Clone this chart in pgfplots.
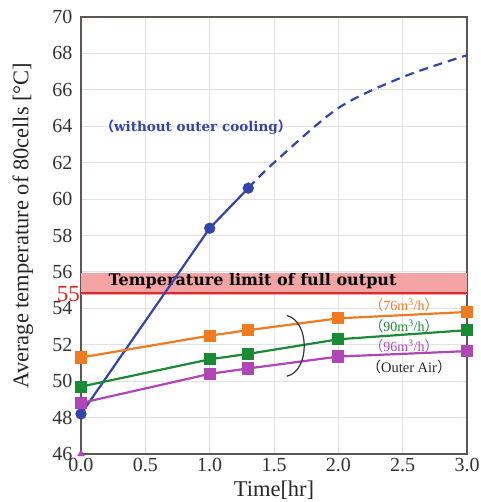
\documentclass[border=0pt]{standalone}
\usepackage{pgfplots}
\pgfplotsset{compat=1.18}
\usepackage{fontspec}
\setmainfont{Liberation Serif}
\newfontfamily\wide{DejaVu Serif}
\newfontfamily\cjk{Noto Sans CJK SC}
\definecolor{cblue}{HTML}{3344AA}
\definecolor{corange}{HTML}{F07A22}
\definecolor{cgreen}{HTML}{1B8A35}
\definecolor{cpurple}{HTML}{B045B5}
\definecolor{caxis}{HTML}{5E5652}
\definecolor{cband}{HTML}{F4A4A4}
\definecolor{cred}{HTML}{E02828}
\begin{document}
\begin{tikzpicture}
\begin{axis}[
  scale only axis,
  width=386bp, height=437bp,
  xmin=0, xmax=3, ymin=46, ymax=70,
  xtick={0,0.5,...,3}, ytick={46,48,...,70},
  /pgf/number format/assume math mode=true,
  xticklabel style={/pgf/number format/fixed,/pgf/number format/fixed zerofill,/pgf/number format/precision=1, yshift=-1bp},
  yticklabel style={xshift=-5bp},
  ticklabel style={font=\fontsize{20bp}{24bp}\selectfont, text=black!80},
  grid=major, major grid style={gray!22, line width=1pt},
  axis line style={caxis, line width=2pt},
  tick style={draw=none},
  xlabel={Time[hr]}, ylabel={Average temperature of 80cells [\textdegree C]},
  label style={font=\fontsize{22.5bp}{26bp}\selectfont, text=black!85},
  xlabel style={at={([yshift=-36bp]axis description cs:0.5,0)}, anchor=center},
  ylabel style={at={([xshift=-58bp,yshift=10bp]axis description cs:0,0.5)}, anchor=center},
  clip=false,
]
% band
\addplot[draw=none, fill=cband, forget plot] coordinates {(0,54.75) (3,54.75) (3,55.93) (0,55.93)} -- cycle;
\addplot[cred, line width=2.5pt, forget plot] coordinates {(0,54.84) (3,54.84)};
\node[font=\wide\bfseries\fontsize{16bp}{18bp}\selectfont, anchor=center, inner sep=0pt] at (axis cs:1.333,55.5) {Temperature limit of full output};
\node[cred, font=\fontsize{23bp}{26bp}\selectfont, anchor=east, inner sep=1bp] at (axis cs:0,54.8) {55};
% blue
\addplot[cblue, line width=2.2pt, mark=*, mark size=4.5bp] coordinates {(0,48.2) (1.0,58.4) (1.3,60.6)};
\addplot[cblue, line width=2.2pt, dash pattern=on 9bp off 6bp, smooth] coordinates {(1.3,60.6) (1.5,62.0) (2.0,65.0) (2.5,66.7) (3.0,67.9)};
% orange
\addplot[corange, line width=2.2pt, mark=square*, mark size=5bp] coordinates {(0,51.3) (1.0,52.5) (1.3,52.8) (2.0,53.45) (3.0,53.8)};
% green
\addplot[cgreen, line width=2.2pt, mark=square*, mark size=5bp] coordinates {(0,49.7) (1.0,51.2) (1.3,51.5) (2.0,52.3) (3.0,52.8)};
% purple
\addplot[cpurple, line width=2.2pt, mark=square*, mark size=5bp] coordinates {(0,48.8) (1.0,50.4) (1.3,50.7) (2.0,51.35) (3.0,51.65)};
\addplot[cpurple, only marks, mark=triangle*, mark size=4bp] coordinates {(0,46)};
% bracket
\draw[black!80, line width=1.2pt] (axis cs:1.6,53.6) .. controls (axis cs:1.78,53.3) and (axis cs:1.78,50.55) .. (axis cs:1.6,50.27);
% labels
\node[cblue, font=\wide\bfseries\fontsize{13.5bp}{15bp}\selectfont, inner sep=0pt] at (axis cs:0.893,63.96) {{\cjk（}without outer cooling{\cjk）}};
\node[corange, font=\fontsize{14bp}{16bp}\selectfont, inner sep=0pt] at (axis cs:2.51,54.18) {{\cjk（}76m\textsuperscript{3}/h{\cjk）}};
\node[cgreen, font=\fontsize{14bp}{16bp}\selectfont, inner sep=0pt] at (axis cs:2.51,53.0) {{\cjk（}90m\textsuperscript{3}/h{\cjk）}};
\node[cpurple, font=\fontsize{14bp}{16bp}\selectfont, inner sep=0pt] at (axis cs:2.51,51.9) {{\cjk（}96m\textsuperscript{3}/h{\cjk）}};
\node[black!85, font=\fontsize{14.5bp}{16bp}\selectfont, inner sep=0pt] at (axis cs:2.55,50.77) {{\cjk（}Outer Air{\cjk）}};
\end{axis}
\pgfresetboundingbox
\path ([xshift=-81bp,yshift=-48bp]current axis.south west) rectangle ([xshift=14bp,yshift=17bp]current axis.north east);
\end{tikzpicture}
\end{document}
